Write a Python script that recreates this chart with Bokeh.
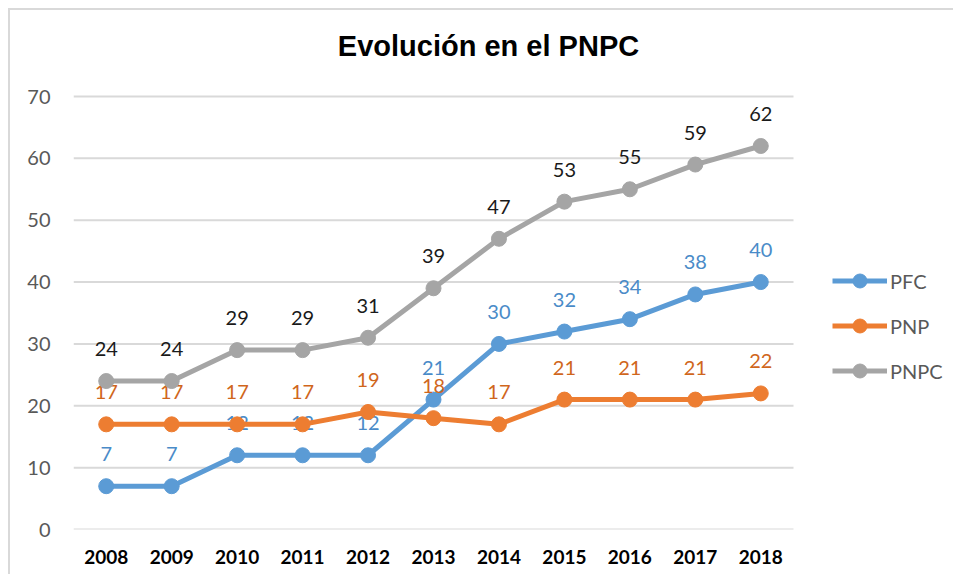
from bokeh.plotting import figure
from bokeh.models import ColumnDataSource, Legend, LegendItem, FixedTicker, Range1d, Label
from bokeh.core.properties import value
from bokeh.embed import file_html
from bokeh.resources import INLINE

title = "Evolución en el PNPC"
years = ["2008", "2009", "2010", "2011", "2012", "2013", "2014", "2015", "2016", "2017", "2018"]
pfc = [7, 7, 12, 12, 12, 21, 30, 32, 34, 38, 40]
pnp = [17, 17, 17, 17, 19, 18, 17, 21, 21, 21, 22]
pnpc = [24, 24, 29, 29, 31, 39, 47, 53, 55, 59, 62]
y_ticks = [0, 10, 20, 30, 40, 50, 60, 70]

series = [
    ("PFC", pfc, "#5B9BD5", "#4A8BC8"),
    ("PNP", pnp, "#ED7D31", "#D0661C"),
    ("PNPC", pnpc, "#A5A5A5", "#1A1A1A"),
]

xs = list(range(len(years)))
W, H = 945, 566
ML, MR, MT, MB = 63, 2, 2, 47
frame_w = W - ML - MR
frame_h = H - MT - MB
cat_px = 720 / len(years)           # width of one category band in pixels
unit_px = 433 / y_ticks[-1]         # pixels per y unit in the plotting area
x_end = -0.5 + frame_w / cat_px     # extra room on the right for the legend
y_end = frame_h / unit_px           # extra room on top for the title

p = figure(
    width=W, height=H,
    x_range=Range1d(-0.5, x_end),
    y_range=Range1d(0, y_end),
    output_backend="svg", toolbar_location=None,
    min_border_left=ML, min_border_right=MR, min_border_top=MT, min_border_bottom=MB,
)
p.styles = {"border-top": "2px solid #d9d9d9", "border-left": "2px solid #d9d9d9",
            "margin-left": "8px", "margin-top": "8px"}

p.add_layout(Label(x=415, y=484, x_units="screen", y_units="screen", text=title,
                   text_align="center", text_baseline="alphabetic",
                   text_font="Liberation Sans", text_font_style="bold",
                   text_font_size="29px", text_color="#000000"))

p.outline_line_color = None
p.xgrid.grid_line_color = None
p.ygrid.grid_line_color = None

# horizontal gridlines limited to the category area
p.segment(x0=[-0.5] * len(y_ticks), x1=[len(years) - 0.5] * len(y_ticks),
          y0=y_ticks, y1=y_ticks, line_color="#d9d9d9", line_width=2)

p.yaxis.ticker = FixedTicker(ticks=y_ticks)
p.xaxis.ticker = FixedTicker(ticks=xs)
p.xaxis.major_label_overrides = {i: y for i, y in zip(xs, years)}

for ax in (p.xaxis, p.yaxis):
    ax.axis_line_color = None
    ax.major_tick_line_color = None
    ax.minor_tick_line_color = None

p.yaxis.major_label_text_font = "Lato"
p.yaxis.major_label_text_font_size = "20px"
p.yaxis.major_label_text_color = "#595959"
p.yaxis.major_label_standoff = 17

p.xaxis.major_label_text_font = "Lato"
p.xaxis.major_label_text_font_size = "19px"
p.xaxis.major_label_text_font_style = "bold"
p.xaxis.major_label_text_color = "#000000"
p.xaxis.major_label_standoff = 14

items = []
for name, vals, color, lcolor in series:
    src = ColumnDataSource(dict(x=xs, y=vals, t=[str(v) for v in vals]))
    r1 = p.line("x", "y", source=src, line_color=color, line_width=5)
    r2 = p.scatter("x", "y", source=src, size=15, fill_color=color, line_color=color)
    p.text("x", "y", text="t", source=src, text_align="center", text_baseline="alphabetic",
           y_offset=-32, text_font=value("Lato"), text_font_size="20px", text_color=lcolor)
    items.append(LegendItem(label=name, renderers=[r1, r2]))

legend = Legend(items=items, location=(759, 141), padding=0, margin=0,
                border_line_color=None, background_fill_alpha=0,
                glyph_width=55, glyph_height=35, label_height=35, spacing=10,
                label_standoff=3, label_text_font="Lato", label_text_font_size="20px",
                label_text_color="#595959")
p.add_layout(legend)

open("out.html", "w").write(file_html(p, INLINE))
